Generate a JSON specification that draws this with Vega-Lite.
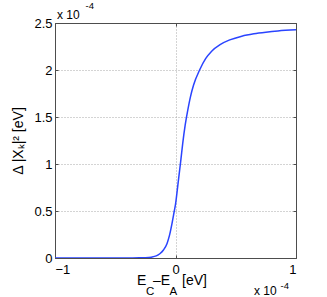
{
  "$schema": "https://vega.github.io/schema/vega-lite/v6.json",
  "width": 241,
  "height": 235,
  "autosize": {"type": "none"},
  "padding": {"left": 55, "top": 23, "right": 31, "bottom": 39},
  "background": "white",
  "config": {
    "view": {"stroke": null},
    "font": "Liberation Sans",
    "axis": {
      "labelFont": "Liberation Sans",
      "labelFontSize": 13,
      "labelColor": "#000000",
      "domainColor": "#4d4d4d",
      "tickColor": "#4d4d4d",
      "tickSize": -3,
      "gridColor": "#a8a8a8",
      "gridDash": [1, 2],
      "gridWidth": 1,
      "title": null
    }
  },
  "datasets": {
    "curve": [
      {"x": -1.0, "y": 0.0},
      {"x": -0.6, "y": 0.0},
      {"x": -0.4, "y": 0.0005},
      {"x": -0.3, "y": 0.0015},
      {"x": -0.25, "y": 0.003},
      {"x": -0.2, "y": 0.009},
      {"x": -0.16, "y": 0.022},
      {"x": -0.13, "y": 0.045},
      {"x": -0.1, "y": 0.085},
      {"x": -0.07, "y": 0.155},
      {"x": -0.05, "y": 0.24},
      {"x": -0.03, "y": 0.36},
      {"x": -0.01, "y": 0.5},
      {"x": 0.0, "y": 0.57},
      {"x": 0.02, "y": 0.78},
      {"x": 0.045, "y": 1.05},
      {"x": 0.06, "y": 1.22},
      {"x": 0.08, "y": 1.41},
      {"x": 0.1, "y": 1.56},
      {"x": 0.125, "y": 1.72},
      {"x": 0.15, "y": 1.84},
      {"x": 0.2, "y": 2.0},
      {"x": 0.25, "y": 2.12},
      {"x": 0.3, "y": 2.2},
      {"x": 0.37, "y": 2.27},
      {"x": 0.45, "y": 2.32},
      {"x": 0.55, "y": 2.36},
      {"x": 0.65, "y": 2.385},
      {"x": 0.75, "y": 2.402},
      {"x": 0.85, "y": 2.415},
      {"x": 1.0, "y": 2.427}
    ]
  },
  "resolve": {"axis": {"x": "independent", "y": "independent"}},
  "layer": [
    {
      "data": {"name": "curve"},
      "mark": {"type": "line", "color": "#2a44ff", "strokeWidth": 1.5, "interpolate": "monotone", "clip": true},
      "encoding": {
        "x": {"field": "x", "type": "quantitative", "scale": {"domain": [-1, 1], "nice": false, "zero": false},
          "axis": {"orient": "bottom", "values": [-1, 0, 1], "grid": true, "labelPadding": 8, "format": "~g"}},
        "y": {"field": "y", "type": "quantitative", "scale": {"domain": [0, 2.5], "nice": false},
          "axis": {"orient": "left", "values": [0, 0.5, 1, 1.5, 2, 2.5], "grid": true, "labelPadding": 6, "format": "~g",
            "title": "Δ |Xₖ|²  [eV]", "titleFont": "Liberation Sans", "titleFontSize": 14, "titleFontWeight": "normal", "titleColor": "#000000", "titlePadding": 8}}
      }
    },
    {
      "data": {"name": "curve"},
      "mark": {"type": "point", "opacity": 0},
      "encoding": {
        "x": {"field": "x", "type": "quantitative", "axis": {"orient": "top", "values": [-1, 0, 1], "labels": false, "grid": false}},
        "y": {"field": "y", "type": "quantitative", "axis": {"orient": "right", "values": [0, 0.5, 1, 1.5, 2, 2.5], "labels": false, "grid": false}}
      }
    },
    {
      "data": {"values": [{"s": "x 10"}]},
      "mark": {"type": "text", "align": "left", "baseline": "alphabetic", "fontSize": 12, "dx": 2, "dy": -4.5},
      "encoding": {"x": {"datum": -1, "axis": null}, "y": {"datum": 2.5, "axis": null}, "text": {"field": "s"}}
    },
    {
      "data": {"values": [{"s": "-4"}]},
      "mark": {"type": "text", "align": "left", "baseline": "alphabetic", "fontSize": 9.5, "dx": 30.5, "dy": -14.5},
      "encoding": {"x": {"datum": -1, "axis": null}, "y": {"datum": 2.5, "axis": null}, "text": {"field": "s"}}
    },
    {
      "data": {"values": [{"s": "x 10"}]},
      "mark": {"type": "text", "align": "left", "baseline": "alphabetic", "fontSize": 12, "dx": -42, "dy": 37},
      "encoding": {"x": {"datum": 1, "axis": null}, "y": {"datum": 0, "axis": null}, "text": {"field": "s"}}
    },
    {
      "data": {"values": [{"s": "-4"}]},
      "mark": {"type": "text", "align": "left", "baseline": "alphabetic", "fontSize": 9.5, "dx": -15.5, "dy": 31.3},
      "encoding": {"x": {"datum": 1, "axis": null}, "y": {"datum": 0, "axis": null}, "text": {"field": "s"}}
    },
    {
      "data": {"values": [{"s": "E"}]},
      "mark": {"type": "text", "align": "left", "baseline": "alphabetic", "fontSize": 14, "dx": -38.5, "dy": 27},
      "encoding": {"x": {"datum": 0, "axis": null}, "y": {"datum": 0, "axis": null}, "text": {"field": "s"}}
    },
    {
      "data": {"values": [{"s": "C"}]},
      "mark": {"type": "text", "align": "left", "baseline": "alphabetic", "fontSize": 11.5, "dx": -29.5, "dy": 36.5},
      "encoding": {"x": {"datum": 0, "axis": null}, "y": {"datum": 0, "axis": null}, "text": {"field": "s"}}
    },
    {
      "data": {"values": [{"s": "–E"}]},
      "mark": {"type": "text", "align": "left", "baseline": "alphabetic", "fontSize": 14, "dx": -22.5, "dy": 27},
      "encoding": {"x": {"datum": 0, "axis": null}, "y": {"datum": 0, "axis": null}, "text": {"field": "s"}}
    },
    {
      "data": {"values": [{"s": "A"}]},
      "mark": {"type": "text", "align": "left", "baseline": "alphabetic", "fontSize": 11.5, "dx": -6, "dy": 36.5},
      "encoding": {"x": {"datum": 0, "axis": null}, "y": {"datum": 0, "axis": null}, "text": {"field": "s"}}
    },
    {
      "data": {"values": [{"s": "[eV]"}]},
      "mark": {"type": "text", "align": "left", "baseline": "alphabetic", "fontSize": 14, "dx": 6.5, "dy": 27},
      "encoding": {"x": {"datum": 0, "axis": null}, "y": {"datum": 0, "axis": null}, "text": {"field": "s"}}
    }
  ]
}
